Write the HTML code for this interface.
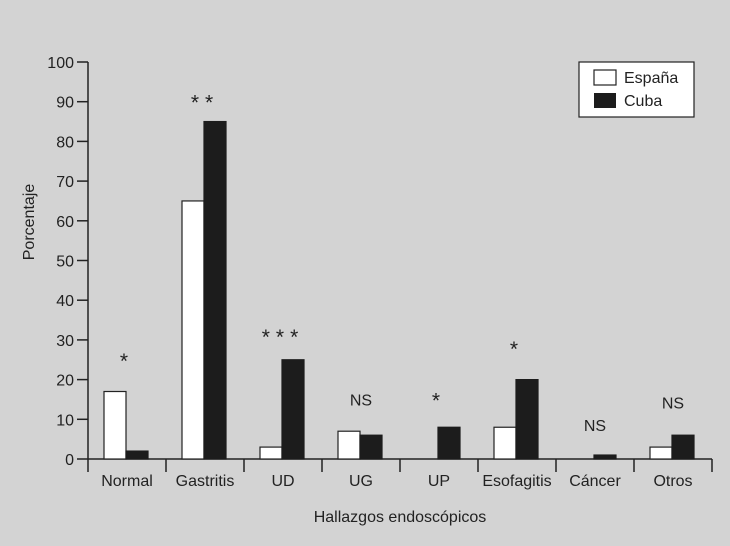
<!DOCTYPE html>
<html><head><meta charset="utf-8"><style>
body{margin:0;background:#d3d3d3;}
svg{display:block;font-family:"Liberation Sans",sans-serif;}
</style></head><body>
<svg id="c" width="730" height="546">
<rect width="730" height="546" fill="#d3d3d3"/>
</svg>
<script>
const categories=["Normal","Gastritis","UD","UG","UP","Esofagitis","Cáncer","Otros"];
const espana=[17,65,3,7,0,8,0,3];
const cuba=[2,85,25,6,8,20,1,6];
const signif=["*","**","***","NS","*","*","NS","NS"];
const signifLevel=[26,91,32,15,16,29,8.6,14.2];
const yTicks=[0,10,20,30,40,50,60,70,80,90,100];
const NS="http://www.w3.org/2000/svg";
const svg=document.getElementById('c');
const x0=88,catW=78,y0=459,yTop=62;
const y=v=>y0-(v/100)*(y0-yTop);
const cx=i=>x0+i*catW;
function mk(t,a,txt){const e=document.createElementNS(NS,t);for(const k in a)e.setAttribute(k,a[k]);if(txt!==undefined)e.textContent=txt;svg.appendChild(e);return e;}
let e;
e=mk('line',{x1:x0,y1:yTop,x2:x0,y2:y0,stroke:'#222','stroke-width':1.5});


e=mk('line',{x1:x0,y1:y0,x2:x0+categories.length*catW,y2:y0,stroke:'#222','stroke-width':1.5});


yTicks.forEach(t=>{
 e=mk('line',{x1:x0-11,y1:y(t),x2:x0,y2:y(t),stroke:'#222','stroke-width':1.5});
 
 
 e=mk('text',{x:x0-14,y:y(t)+6,'text-anchor':'end','font-size':16,fill:'#222'},t);
 
 
});
for(let i=0;i<=categories.length;i++){
 e=mk('line',{x1:cx(i),y1:y0,x2:cx(i),y2:y0+13,stroke:'#222','stroke-width':1.5});
 
 
}
categories.forEach((c,i)=>{
 const bx=cx(i)+16,bw=22;
 if(espana[i]>0){
  e=mk('rect',{x:bx,y:y(espana[i]),width:bw,height:y0-y(espana[i]),fill:'#fff',stroke:'#222','stroke-width':1.2});
  
  
 }
 if(cuba[i]>0){
  e=mk('rect',{x:bx+bw,y:y(cuba[i]),width:bw,height:y0-y(cuba[i]),fill:'#1c1c1c',stroke:'#1c1c1c','stroke-width':1.2});
  
  
 }
 e=mk('text',{x:cx(i)+catW/2,y:486,'text-anchor':'middle','font-size':16,fill:'#222'},c);
 
 
 const s=signif[i];
 const isNS=s==='NS';
 e=mk('text',{x:cx(i)+catW/2,y:y(signifLevel[i])+(isNS?6:12),'text-anchor':'middle','font-size':isNS?16:21,fill:'#222','letter-spacing':isNS?0:6},s);
 
 
});
e=mk('text',{x:x0+categories.length*catW/2,y:522,'text-anchor':'middle','font-size':16,fill:'#222'},'Hallazgos endoscópicos');


e=mk('text',{x:34,y:222,'text-anchor':'middle','font-size':16,fill:'#222',transform:'rotate(-90 34 222)'},'Porcentaje');


e=mk('rect',{x:579,y:62,width:115,height:55,fill:'#fff',stroke:'#222','stroke-width':1.2});


e=mk('rect',{x:594,y:70,width:22,height:15,fill:'#fff',stroke:'#222','stroke-width':1.2});


e=mk('text',{x:624,y:83,'font-size':16,fill:'#222'},'España');


e=mk('rect',{x:594,y:93,width:22,height:15,fill:'#1c1c1c'});


e=mk('text',{x:624,y:106,'font-size':16,fill:'#222'},'Cuba');


</script>
</body></html>
